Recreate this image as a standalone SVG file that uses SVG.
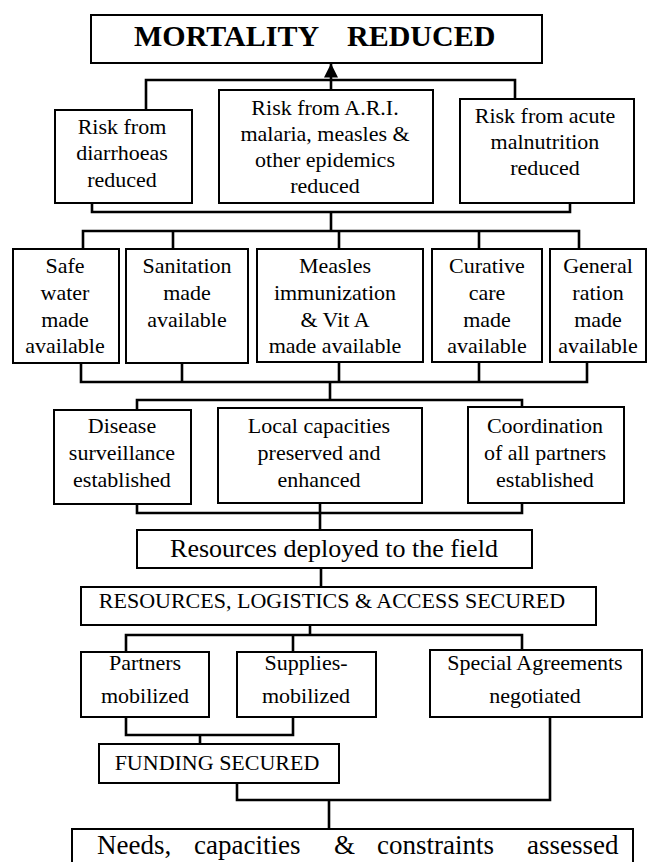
<svg xmlns="http://www.w3.org/2000/svg" width="649" height="862" viewBox="0 0 649 862">
<style>
.box{fill:#fff;stroke:#000;stroke-width:2}
.t{font-family:"Liberation Serif","Times New Roman",serif;font-size:22px;text-anchor:middle;fill:#000}
.c{fill:none;stroke:#000;stroke-width:2.6}
</style>
<defs>
<marker id="ah" markerUnits="userSpaceOnUse" markerWidth="14" markerHeight="14" refX="14" refY="7" orient="auto">
<path d="M0,0 L14,7 L0,14 z" fill="#000"/>
</marker>
</defs>
<rect width="649" height="862" fill="#fff"/>
<g id="connectors">
<path class="c" d="M331,90 V80 L331,63.5" marker-end="url(#ah)"/>
<path class="c" d="M146,110 V80 H515 V99"/>
<path class="c" d="M92,203 V212 H570 V203 M331,212 V231"/>
<path class="c" d="M83,249 V231 H579 V249 M173,231 V249 M339,231 V249 M479,231 V249"/>
<path class="c" d="M81,363 V382 H587 V362 M182,363 V382 M339,362 V382 M479,362 V382 M330,382 V400"/>
<path class="c" d="M137,410 V400 H522 V407"/>
<path class="c" d="M137,504 V513 H522 V503 M320,503 V530"/>
<path class="c" d="M321,568 V587"/>
<path class="c" d="M310,625 V635 M126,652 V635 H522 V650 M293,635 V652"/>
<path class="c" d="M126,717 V735 H293 V717 M200,735 V744"/>
<path class="c" d="M237,783 V800 H550 V717 M329,800 V829"/>
</g>
<g id="n-mortality">
<rect class="box" x="91" y="15" width="451" height="48"/>
<text class="t" style="font-size:30px;font-weight:bold;text-anchor:start" y="46"><tspan x="134">MORTALITY</tspan><tspan x="347">REDUCED</tspan></text>
</g>
<g id="n-diarrhoeas">
<rect class="box" x="55" y="110" width="137" height="93"/>
<text class="t" x="122" y="134">Risk from</text>
<text class="t" x="122" y="160">diarrhoeas</text>
<text class="t" x="122" y="187">reduced</text>
</g>
<g id="n-ari">
<rect class="box" x="219" y="90" width="214" height="113"/>
<text class="t" x="325" y="115">Risk from A.R.I.</text>
<text class="t" x="325" y="141">malaria, measles &amp;</text>
<text class="t" x="325" y="167">other epidemics</text>
<text class="t" x="325" y="193">reduced</text>
</g>
<g id="n-malnutrition">
<rect class="box" x="460" y="99" width="174" height="104"/>
<text class="t" x="545" y="123">Risk from acute</text>
<text class="t" x="545" y="149">malnutrition</text>
<text class="t" x="545" y="175">reduced</text>
</g>
<g id="n-water">
<rect class="box" x="13" y="249" width="106" height="114"/>
<text class="t" x="65" y="273">Safe</text>
<text class="t" x="65" y="300">water</text>
<text class="t" x="65" y="327">made</text>
<text class="t" x="65" y="353">available</text>
</g>
<g id="n-sanitation">
<rect class="box" x="126" y="249" width="122" height="114"/>
<text class="t" x="187" y="273">Sanitation</text>
<text class="t" x="187" y="300">made</text>
<text class="t" x="187" y="327">available</text>
</g>
<g id="n-measles">
<rect class="box" x="257" y="249" width="166" height="113"/>
<text class="t" x="335" y="273">Measles</text>
<text class="t" x="335" y="300">immunization</text>
<text class="t" x="335" y="327">&amp; Vit A</text>
<text class="t" x="335" y="353">made available</text>
</g>
<g id="n-curative">
<rect class="box" x="432" y="249" width="110" height="113"/>
<text class="t" x="487" y="273">Curative</text>
<text class="t" x="487" y="300">care</text>
<text class="t" x="487" y="327">made</text>
<text class="t" x="487" y="353">available</text>
</g>
<g id="n-ration">
<rect class="box" x="550" y="249" width="96" height="113"/>
<text class="t" x="598" y="273">General</text>
<text class="t" x="598" y="300">ration</text>
<text class="t" x="598" y="327">made</text>
<text class="t" x="598" y="353">available</text>
</g>
<g id="n-surveillance">
<rect class="box" x="54" y="410" width="137" height="94"/>
<text class="t" x="122" y="433">Disease</text>
<text class="t" x="122" y="460">surveillance</text>
<text class="t" x="122" y="487">established</text>
</g>
<g id="n-local">
<rect class="box" x="218" y="408" width="204" height="95"/>
<text class="t" x="319" y="433">Local capacities</text>
<text class="t" x="319" y="460">preserved and</text>
<text class="t" x="319" y="487">enhanced</text>
</g>
<g id="n-coordination">
<rect class="box" x="468" y="407" width="156" height="96"/>
<text class="t" x="545" y="433">Coordination</text>
<text class="t" x="545" y="460">of all partners</text>
<text class="t" x="545" y="487">established</text>
</g>
<g id="n-deployed">
<rect class="box" x="137" y="530" width="395" height="38"/>
<text class="t" style="font-size:26px" x="334" y="557">Resources deployed to the field</text>
</g>
<g id="n-rla">
<rect class="box" x="81" y="587" width="515" height="38"/>
<text class="t" x="332" y="608">RESOURCES, LOGISTICS &amp; ACCESS SECURED</text>
</g>
<g id="n-partners">
<rect class="box" x="81" y="652" width="128" height="65"/>
<text class="t" x="145" y="670">Partners</text>
<text class="t" x="145" y="703">mobilized</text>
</g>
<g id="n-supplies">
<rect class="box" x="237" y="652" width="139" height="65"/>
<text class="t" x="306" y="670">Supplies-</text>
<text class="t" x="306" y="703">mobilized</text>
</g>
<g id="n-special">
<rect class="box" x="430" y="650" width="212" height="67"/>
<text class="t" x="535" y="670">Special Agreements</text>
<text class="t" x="535" y="703">negotiated</text>
</g>
<g id="n-funding">
<rect class="box" x="99" y="744" width="240" height="39"/>
<text class="t" x="217" y="770">FUNDING SECURED</text>
</g>
<g id="n-needs">
<rect class="box" x="72" y="829" width="561" height="45"/>
<text class="t" style="font-size:27px;text-anchor:start" y="854"><tspan x="97">Needs,</tspan><tspan x="194">capacities</tspan><tspan x="334">&amp;</tspan><tspan x="377">constraints</tspan><tspan x="527">assessed</tspan></text>
</g>
</svg>
